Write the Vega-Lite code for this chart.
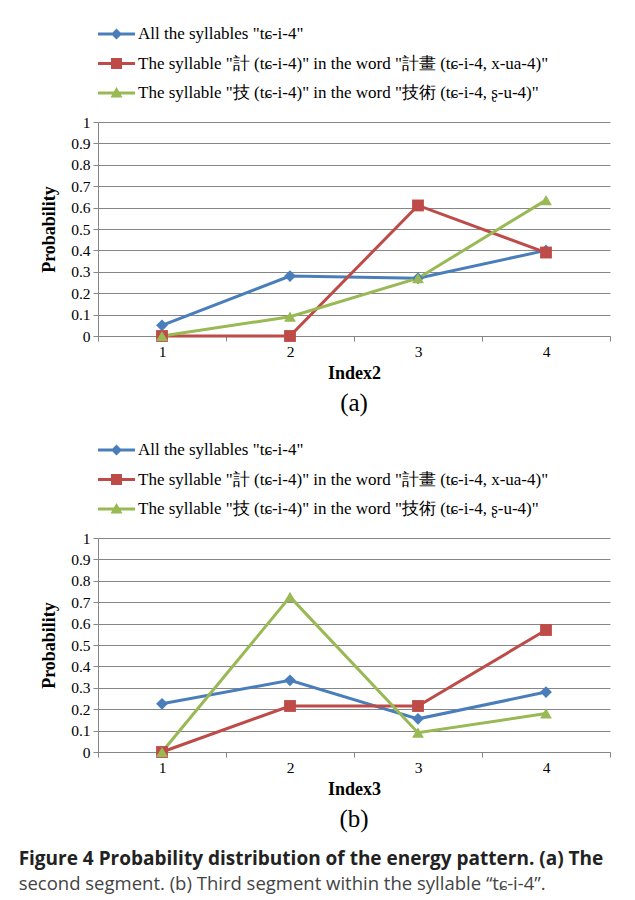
{
  "$schema": "https://vega.github.io/schema/vega-lite/v6.json",
  "background": "white",
  "padding": {"left": 18, "top": 24, "right": 10, "bottom": 4},
  "config": {
    "view": {"stroke": null},
    "font": "Liberation Serif",
    "axis": {
      "labelFont": "Liberation Serif",
      "labelFontSize": 15.5,
      "labelColor": "#000",
      "titleFont": "Liberation Serif",
      "titleFontSize": 18,
      "titleFontWeight": "bold",
      "titleColor": "#000",
      "domainColor": "#868686",
      "tickColor": "#868686",
      "gridColor": "#868686",
      "gridOpacity": 1,
      "tickSize": 5
    },
    "legend": {
      "labelFont": "Liberation Serif",
      "labelFontSize": 17,
      "labelColor": "#000",
      "labelLimit": 0
    }
  },
  "datasets": {
    "seg2": [
      {"index": 1, "series": "All the syllables \"tɕ-i-4\"", "p": 0.05},
      {"index": 2, "series": "All the syllables \"tɕ-i-4\"", "p": 0.28},
      {"index": 3, "series": "All the syllables \"tɕ-i-4\"", "p": 0.27},
      {"index": 4, "series": "All the syllables \"tɕ-i-4\"", "p": 0.4},
      {"index": 1, "series": "The syllable \"計 (tɕ-i-4)\" in the word \"計畫 (tɕ-i-4, x-ua-4)\"", "p": 0},
      {"index": 2, "series": "The syllable \"計 (tɕ-i-4)\" in the word \"計畫 (tɕ-i-4, x-ua-4)\"", "p": 0},
      {"index": 3, "series": "The syllable \"計 (tɕ-i-4)\" in the word \"計畫 (tɕ-i-4, x-ua-4)\"", "p": 0.61},
      {"index": 4, "series": "The syllable \"計 (tɕ-i-4)\" in the word \"計畫 (tɕ-i-4, x-ua-4)\"", "p": 0.39},
      {"index": 1, "series": "The syllable \"技 (tɕ-i-4)\" in the word \"技術 (tɕ-i-4, ʂ-u-4)\"", "p": 0},
      {"index": 2, "series": "The syllable \"技 (tɕ-i-4)\" in the word \"技術 (tɕ-i-4, ʂ-u-4)\"", "p": 0.09},
      {"index": 3, "series": "The syllable \"技 (tɕ-i-4)\" in the word \"技術 (tɕ-i-4, ʂ-u-4)\"", "p": 0.27},
      {"index": 4, "series": "The syllable \"技 (tɕ-i-4)\" in the word \"技術 (tɕ-i-4, ʂ-u-4)\"", "p": 0.635}
    ],
    "seg3": [
      {"index": 1, "series": "All the syllables \"tɕ-i-4\"", "p": 0.225},
      {"index": 2, "series": "All the syllables \"tɕ-i-4\"", "p": 0.335},
      {"index": 3, "series": "All the syllables \"tɕ-i-4\"", "p": 0.155},
      {"index": 4, "series": "All the syllables \"tɕ-i-4\"", "p": 0.28},
      {"index": 1, "series": "The syllable \"計 (tɕ-i-4)\" in the word \"計畫 (tɕ-i-4, x-ua-4)\"", "p": 0},
      {"index": 2, "series": "The syllable \"計 (tɕ-i-4)\" in the word \"計畫 (tɕ-i-4, x-ua-4)\"", "p": 0.215},
      {"index": 3, "series": "The syllable \"計 (tɕ-i-4)\" in the word \"計畫 (tɕ-i-4, x-ua-4)\"", "p": 0.215},
      {"index": 4, "series": "The syllable \"計 (tɕ-i-4)\" in the word \"計畫 (tɕ-i-4, x-ua-4)\"", "p": 0.57},
      {"index": 1, "series": "The syllable \"技 (tɕ-i-4)\" in the word \"技術 (tɕ-i-4, ʂ-u-4)\"", "p": 0},
      {"index": 2, "series": "The syllable \"技 (tɕ-i-4)\" in the word \"技術 (tɕ-i-4, ʂ-u-4)\"", "p": 0.725},
      {"index": 3, "series": "The syllable \"技 (tɕ-i-4)\" in the word \"技術 (tɕ-i-4, ʂ-u-4)\"", "p": 0.09},
      {"index": 4, "series": "The syllable \"技 (tɕ-i-4)\" in the word \"技術 (tɕ-i-4, ʂ-u-4)\"", "p": 0.18}
    ]
  },
  "title": {
    "text": "Figure 4 Probability distribution of the energy pattern. (a) The",
    "subtitle": "second segment. (b) Third segment within the syllable “tɕ-i-4”.",
    "orient": "bottom",
    "anchor": "start",
    "frame": "bounds",
    "dx": -22,
    "offset": 18,
    "font": "Open Sans",
    "fontSize": 19,
    "fontWeight": "bold",
    "color": "#222",
    "subtitleFont": "Open Sans",
    "subtitleFontSize": 18.5,
    "subtitleFontWeight": "normal",
    "subtitleColor": "#444",
    "subtitlePadding": 6
  },
  "resolve": {
    "scale": {"color": "independent", "shape": "independent"},
    "legend": {"color": "independent", "shape": "independent"}
  },
  "spacing": 24,
  "vconcat": [
    {
      "width": 512,
      "height": 214,
      "data": {"name": "seg2"},
      "title": {"text": "(a)", "orient": "bottom", "font": "Liberation Serif", "fontSize": 25, "fontWeight": "normal", "color": "#000", "offset": 8},
      "encoding": {
        "x": {
          "field": "index", "type": "ordinal", "title": "Index2",
          "scale": {"type": "band", "paddingInner": 0, "paddingOuter": 0},
          "axis": {"labelAngle": 0, "tickBand": "extent", "labelFont": "Liberation Serif", "labelPadding": 3, "titlePadding": 5}
        },
        "y": {
          "field": "p", "type": "quantitative", "title": "Probability",
          "scale": {"domain": [0, 1], "nice": false},
          "axis": {"values": [0, 0.1, 0.2, 0.3, 0.4, 0.5, 0.6, 0.7, 0.8, 0.9, 1], "format": "~g", "labelFont": "Liberation Serif", "labelPadding": 3, "titlePadding": 12}
        },
        "color": {
          "field": "series", "type": "nominal",
          "scale": {
            "domain": ["All the syllables \"tɕ-i-4\"", "The syllable \"計 (tɕ-i-4)\" in the word \"計畫 (tɕ-i-4, x-ua-4)\"", "The syllable \"技 (tɕ-i-4)\" in the word \"技術 (tɕ-i-4, ʂ-u-4)\""],
            "range": ["#4A7EBB", "#BE4B48", "#98B954"]
          },
          "legend": {
            "title": null, "orient": "top", "direction": "vertical", "columns": 1,
            "symbolSize": 400, "labelOffset": 20, "rowPadding": 11.5, "offset": 21, "padding": 0,
            "encode": {
              "symbols": {
                "update": {
                  "shape": {"signal": "['M-1,-0.14H2.7V0.14H-1Z M0.85,-0.55L1.4,0L0.85,0.55L0.3,0Z', 'M-1,-0.14H2.7V0.14H-1Z M0.3,-0.55H1.4V0.55H0.3Z', 'M-1,-0.14H2.7V0.14H-1Z M0.85,-0.6L1.45,0.45L0.25,0.45Z'][datum.index]"},
                  "fill": {"signal": "['#4A7EBB', '#BE4B48', '#98B954'][datum.index]"},
                  "stroke": {"value": "transparent"},
                  "strokeWidth": {"value": 0},
                  "size": {"value": 400},
                  "opacity": {"value": 1}
                }
              }
            }
          }
        }
      },
      "layer": [
        {"mark": {"type": "line", "strokeWidth": 3}},
        {
          "mark": {"type": "point", "filled": true, "opacity": 1, "size": 140},
          "encoding": {
            "shape": {
              "field": "series", "type": "nominal",
              "scale": {"range": ["diamond", "triangle-up", "square"]},
              "legend": null
            }
          }
        }
      ]
    },
    {
      "width": 512,
      "height": 214,
      "data": {"name": "seg3"},
      "title": {"text": "(b)", "orient": "bottom", "font": "Liberation Serif", "fontSize": 25, "fontWeight": "normal", "color": "#000", "offset": 8},
      "encoding": {
        "x": {
          "field": "index", "type": "ordinal", "title": "Index3",
          "scale": {"type": "band", "paddingInner": 0, "paddingOuter": 0},
          "axis": {"labelAngle": 0, "tickBand": "extent", "labelFont": "Liberation Serif", "labelPadding": 3, "titlePadding": 5}
        },
        "y": {
          "field": "p", "type": "quantitative", "title": "Probability",
          "scale": {"domain": [0, 1], "nice": false},
          "axis": {"values": [0, 0.1, 0.2, 0.3, 0.4, 0.5, 0.6, 0.7, 0.8, 0.9, 1], "format": "~g", "labelFont": "Liberation Serif", "labelPadding": 3, "titlePadding": 12}
        },
        "color": {
          "field": "series", "type": "nominal",
          "scale": {
            "domain": ["All the syllables \"tɕ-i-4\"", "The syllable \"計 (tɕ-i-4)\" in the word \"計畫 (tɕ-i-4, x-ua-4)\"", "The syllable \"技 (tɕ-i-4)\" in the word \"技術 (tɕ-i-4, ʂ-u-4)\""],
            "range": ["#4A7EBB", "#BE4B48", "#98B954"]
          },
          "legend": {
            "title": null, "orient": "top", "direction": "vertical", "columns": 1,
            "symbolSize": 400, "labelOffset": 20, "rowPadding": 11.5, "offset": 21, "padding": 0,
            "encode": {
              "symbols": {
                "update": {
                  "shape": {"signal": "['M-1,-0.14H2.7V0.14H-1Z M0.85,-0.55L1.4,0L0.85,0.55L0.3,0Z', 'M-1,-0.14H2.7V0.14H-1Z M0.3,-0.55H1.4V0.55H0.3Z', 'M-1,-0.14H2.7V0.14H-1Z M0.85,-0.6L1.45,0.45L0.25,0.45Z'][datum.index]"},
                  "fill": {"signal": "['#4A7EBB', '#BE4B48', '#98B954'][datum.index]"},
                  "stroke": {"value": "transparent"},
                  "strokeWidth": {"value": 0},
                  "size": {"value": 400},
                  "opacity": {"value": 1}
                }
              }
            }
          }
        }
      },
      "layer": [
        {"mark": {"type": "line", "strokeWidth": 3}},
        {
          "mark": {"type": "point", "filled": true, "opacity": 1, "size": 140},
          "encoding": {
            "shape": {
              "field": "series", "type": "nominal",
              "scale": {"range": ["diamond", "triangle-up", "square"]},
              "legend": null
            }
          }
        }
      ]
    }
  ]
}
